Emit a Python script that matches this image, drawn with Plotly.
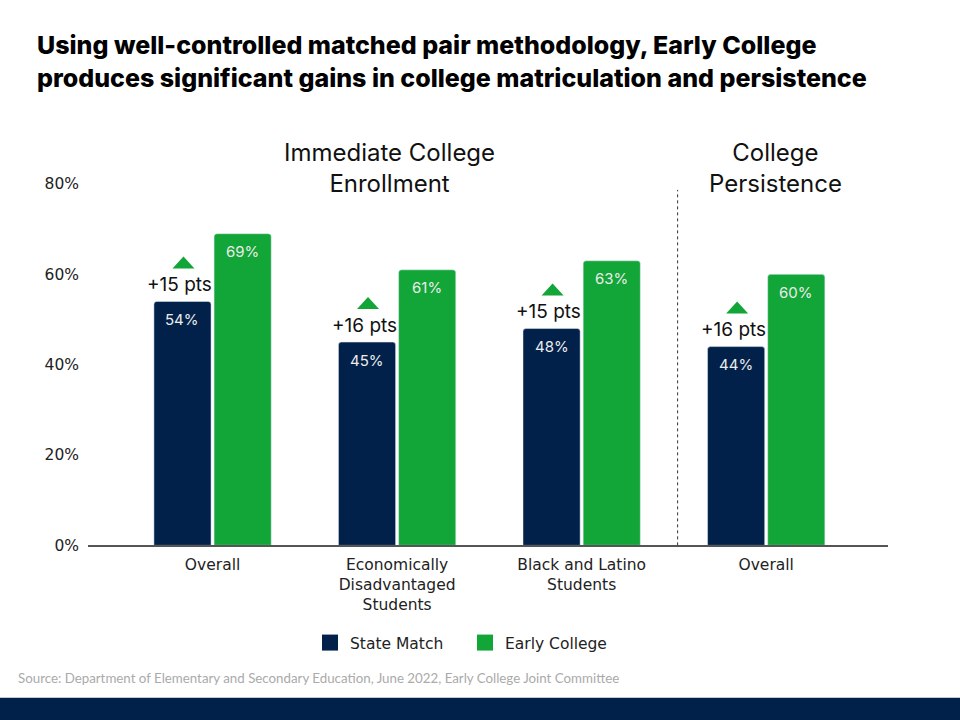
import plotly.graph_objects as go

categories = ["Overall", "Economically<br>Disadvantaged<br>Students", "Black and Latino<br>Students", "Overall"]
state_match = [54, 45, 48, 44]
early_college = [69, 61, 63, 60]
gains = ["+15 pts", "+16 pts", "+15 pts", "+16 pts"]
group_headers = ["Immediate College<br>Enrollment", "College<br>Persistence"]
group_spans = [[0, 2], [3, 3]]
yticks = [0, 20, 40, 60, 80]
yticklabels = ["0%", "20%", "40%", "60%", "80%"]
series_names = ["State Match", "Early College"]

NAVY = "#01214a"
GREEN = "#12a537"
BARGAP = 0.348
GROUPGAP = 0.05

W, H = 960, 720
ML, MR, MT, MB = 88, 72, 184, 173
PW, PH = W - ML - MR, H - MT - MB


def px_x(px):
    return (px - ML) / PW


def px_y(py):
    return (H - MB - py) / PH


xs = list(range(len(categories)))
slot = (1 - BARGAP) / 2
offset = slot / 2

fig = go.Figure()
for vals, name, col in [(state_match, series_names[0], NAVY), (early_college, series_names[1], GREEN)]:
    fig.add_trace(go.Bar(
        x=xs, y=vals, name=name, marker_color=col, showlegend=False,
    ))
# legend entries
for name, col in [(series_names[0], NAVY), (series_names[1], GREEN)]:
    fig.add_trace(go.Scatter(
        x=[None], y=[None], mode="markers", name=name,
        marker=dict(symbol="square", size=18, color=col),
    ))

annotations = []
shapes = []
for i in xs:
    for vals, sgn in [(state_match, -1), (early_college, 1)]:
        annotations.append(dict(
            x=i + sgn * offset, y=vals[i], xref="x", yref="y", text=f"{vals[i]}%",
            showarrow=False, yshift=-18, yanchor="middle",
            font=dict(size=15, family="Inter", color="#ececec"),
        ))

for i, (v, g) in enumerate(zip(state_match, gains)):
    annotations.append(dict(
        x=i - offset, y=v, xref="x", yref="y", text=g, showarrow=False,
        yshift=17, xshift=-3, font=dict(size=19, family="Inter", color="#111111"),
    ))
    shapes.append(dict(
        type="path", xref="x", yref="y", xsizemode="pixel", ysizemode="pixel",
        xanchor=i - offset, yanchor=v,
        path="M -10,33 L 12,33 L 1,45 Z",
        fillcolor=GREEN, line=dict(width=0),
    ))

for text, (a, b) in zip(group_headers, group_spans):
    annotations.append(dict(
        x=(a + b) / 2 - 0.04 if a != b else a + 0.05, y=px_y(168), xref="x", yref="paper",
        text=text, showarrow=False, yanchor="middle",
        font=dict(size=24, family="Inter", color="#111111"),
    ))

# separator between groups
shapes.append(dict(
    type="line", xref="x", yref="y", x0=2.52, x1=2.52, y0=0, y1=78.7,
    line=dict(color="#333333", width=1, dash="dot"),
))
# bottom band
shapes.append(dict(
    type="rect", xref="paper", yref="paper", x0=px_x(-5), x1=px_x(W + 5),
    y0=px_y(H + 5), y1=px_y(700),
    fillcolor=NAVY, line=dict(width=0), layer="below",
))

annotations.append(dict(
    x=px_x(16), y=px_y(680), xref="paper", yref="paper", xanchor="left", yanchor="middle",
    text="Source: Department of Elementary and Secondary Education, June 2022, Early College Joint Committee",
    showarrow=False, font=dict(size=13.3, family="Lato", color="#aaaaaa"),
))

TICKFONT = dict(size=15.5, family="DejaVu Sans", color="#222222")

fig.update_layout(
    width=W, height=H,
    margin=dict(l=ML, r=MR, t=MT, b=MB),
    paper_bgcolor="white", plot_bgcolor="white",
    barmode="group", bargap=BARGAP, bargroupgap=GROUPGAP, barcornerradius=3,
    title=dict(
        text="Using well-controlled matched pair methodology, Early College<br>produces significant gains in college matriculation and persistence",
        x=37 / W, xanchor="left", y=1 - 54 / H, yanchor="middle",
        font=dict(size=25, family="Inter", weight=800, color="#000000"),
    ),
    xaxis=dict(
        tickvals=xs, ticktext=categories, range=[-0.675, 3.66],
        showline=True, linecolor="#555555", linewidth=1.5, showgrid=False,
        zeroline=False, ticks="", tickfont=TICKFONT, ticklabelstandoff=4,
    ),
    yaxis=dict(
        range=[0, 80], tickvals=yticks, ticktext=yticklabels, showgrid=False,
        zeroline=False, showline=False, ticks="", ticklabelstandoff=8,
        tickfont=TICKFONT,
    ),
    legend=dict(
        orientation="h", xref="container", yref="container", x=465 / W, xanchor="center",
        y=1 - 643 / H, yanchor="middle",
        font=dict(size=15.5, family="DejaVu Sans", color="#222222"),
        traceorder="normal", entrywidth=110,
    ),
    annotations=annotations, shapes=shapes,
)
fig.write_html("out.html")
